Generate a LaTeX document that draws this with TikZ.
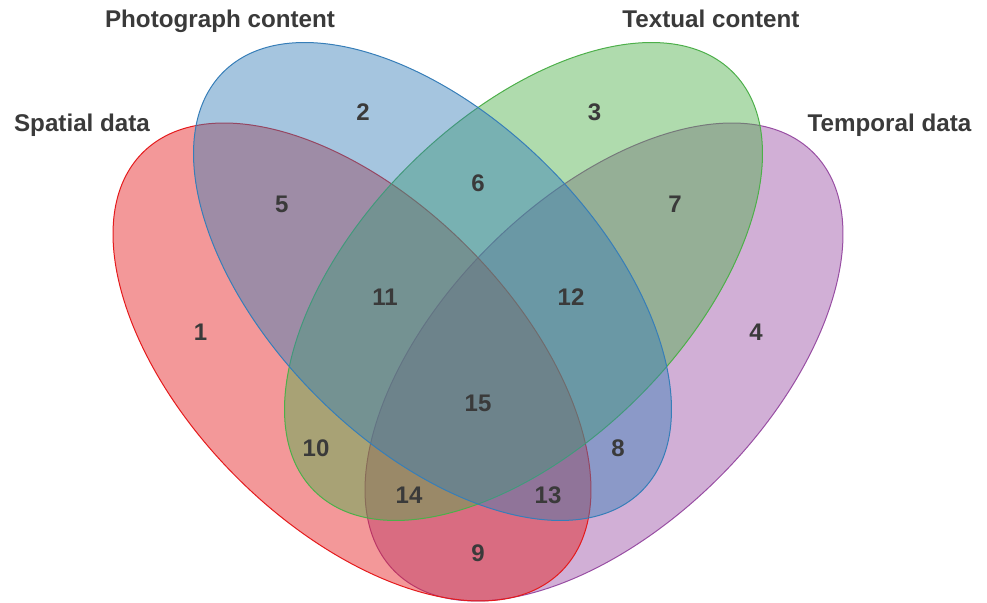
\documentclass[tikz,border=0pt]{standalone}
\usepackage{fontspec}
\setmainfont{Liberation Sans}
\definecolor{setred}{HTML}{E41A1C}
\definecolor{setblue}{HTML}{377EB8}
\definecolor{setgreen}{HTML}{4DAF4A}
\definecolor{setpurple}{HTML}{984EA3}
\definecolor{inkgray}{HTML}{3A3A3A}
\begin{document}
\begin{tikzpicture}[x=1pt,y=1pt,
  setshape/.style={fill=#1, fill opacity=0.45, draw=#1, draw opacity=1, line width=1pt},
  count/.style={inner sep=0pt, text=inkgray, font=\fontsize{24}{28}\selectfont\bfseries},
  setname/.style={inner sep=0pt, anchor=base, text=inkgray, font=\fontsize{24.2}{29}\selectfont\bfseries}]
\useasboundingbox (0,0) rectangle (987,602);

% centres of the four sets
\coordinate (cS) at (352,240);
\coordinate (cP) at (432.5,320.5);
\coordinate (cT) at (523.5,320.5);
\coordinate (cM) at (604,240);

% the four ellipses, stacked bottom to top
\draw[setshape=setpurple, rotate around={45:(cM)}] (cM) ellipse [x radius=296pt, y radius=163pt];
\draw[setshape=setred, rotate around={-45:(cS)}] (cS) ellipse [x radius=296pt, y radius=163pt];
\draw[setshape=setgreen, rotate around={45:(cT)}] (cT) ellipse [x radius=296pt, y radius=163pt];
\draw[setshape=setblue, rotate around={-45:(cP)}] (cP) ellipse [x radius=296pt, y radius=163pt];

% set names
\node[setname] (nP) at (220,574.7) {Photograph content};
\node[setname] (nT) at (711,574.7) {Textual content};
\node[setname] (nS) at (82,470.3) {Spatial data};
\node[setname] (nM) at (889.5,470.3) {Temporal data};

% region counts
\node[count] (r1)  at (200.5,270) {1};
\node[count] (r2)  at (363,490) {2};
\node[count] (r3)  at (594.5,490) {3};
\node[count] (r4)  at (756,270) {4};
\node[count] (r5)  at (281.7,397.5) {5};
\node[count] (r6)  at (478,419) {6};
\node[count] (r7)  at (675,397.5) {7};
\node[count] (r8)  at (618,154) {8};
\node[count] (r9)  at (478,49) {9};
\node[count] (r10) at (316,154) {10};
\node[count] (r11) at (385,305) {11};
\node[count] (r12) at (571,305) {12};
\node[count] (r13) at (548,107) {13};
\node[count] (r14) at (409,107) {14};
\node[count] (r15) at (478,199) {15};
\end{tikzpicture}
\end{document}
